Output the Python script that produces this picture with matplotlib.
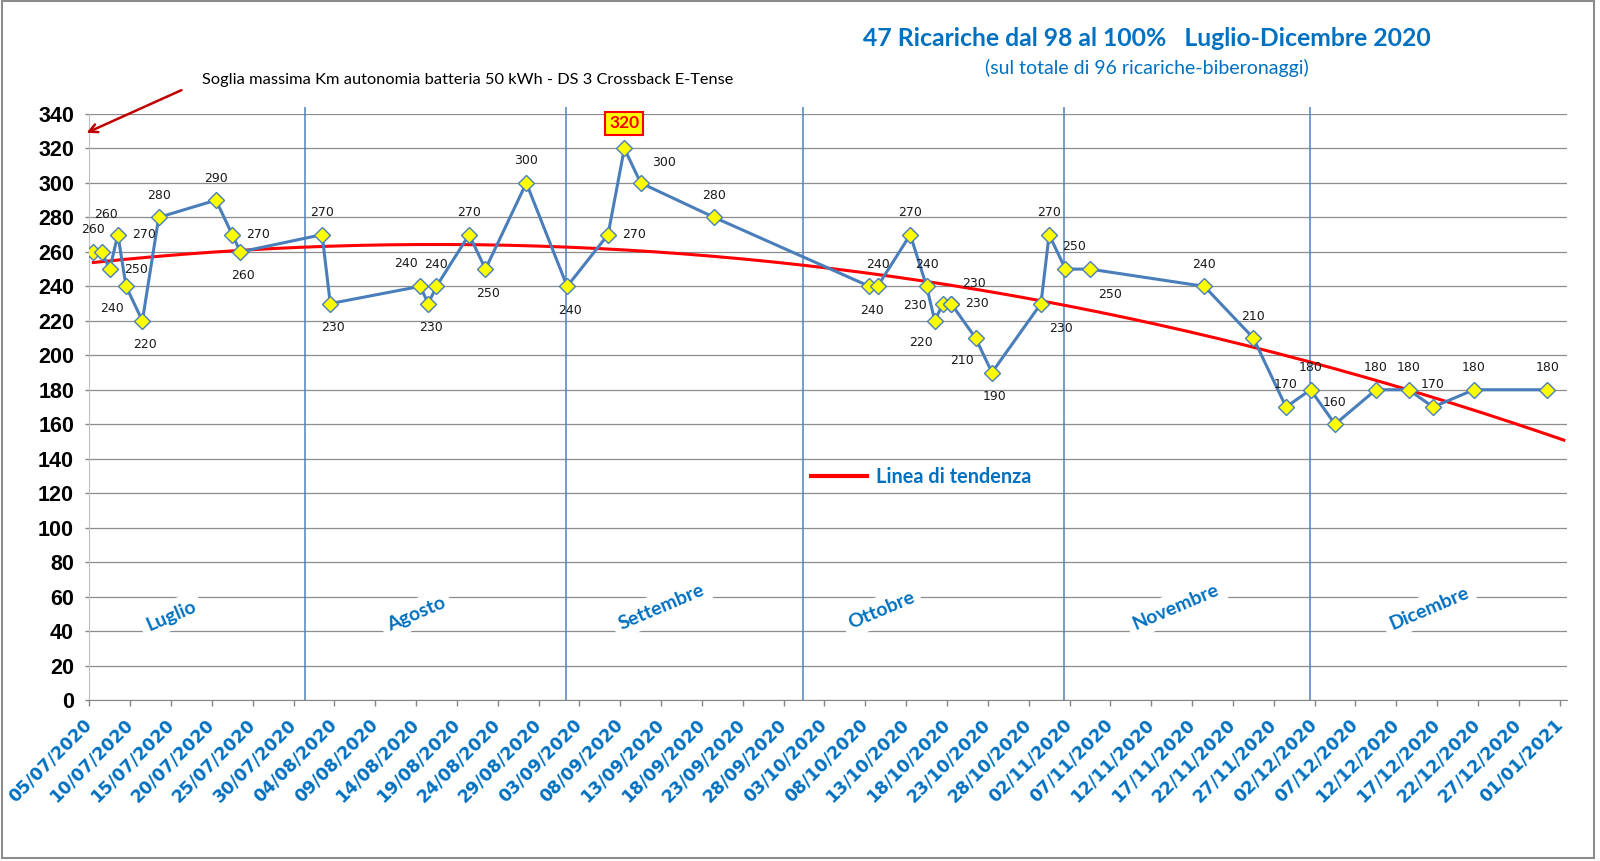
import numpy as np
import pandas as pd
import matplotlib
matplotlib.use('Agg')
from matplotlib import pyplot as plt
import matplotlib.dates as mdates
from matplotlib.patches import Rectangle
from matplotlib.transforms import ScaledTranslation

# ricariche dal 98 al 100% (data, km autonomia stimata)
date = ['05/07/2020', '06/07/2020', '07/07/2020', '08/07/2020', '09/07/2020', '11/07/2020',
        '13/07/2020', '20/07/2020', '22/07/2020', '23/07/2020', '02/08/2020', '03/08/2020',
        '14/08/2020', '15/08/2020', '16/08/2020', '20/08/2020', '22/08/2020', '27/08/2020',
        '01/09/2020', '06/09/2020', '08/09/2020', '10/09/2020', '19/09/2020', '08/10/2020',
        '09/10/2020', '13/10/2020', '15/10/2020', '16/10/2020', '17/10/2020', '18/10/2020',
        '18/10/2020', '21/10/2020', '23/10/2020', '29/10/2020', '30/10/2020', '01/11/2020',
        '04/11/2020', '18/11/2020', '24/11/2020', '28/11/2020', '01/12/2020', '04/12/2020',
        '09/12/2020', '13/12/2020', '16/12/2020', '21/12/2020', '30/12/2020']
km = [260, 260, 250, 270, 240, 220, 280, 290, 270, 260, 270, 230,
      240, 230, 240, 270, 250, 300, 240, 270, 320, 300, 280, 240,
      240, 270, 240, 220, 230, 230, 230, 210, 190, 230, 270, 250,
      250, 240, 210, 170, 180, 160, 180, 180, 170, 180, 180]

# separatori e nomi dei mesi
mesi_linee = ['31/07/2020', '01/09/2020', '30/09/2020', '01/11/2020', '01/12/2020']
mesi_nomi = ['Luglio', 'Agosto', 'Settembre', 'Ottobre', 'Novembre', 'Dicembre']
mesi_date = ['15/07/2020', '14/08/2020', '13/09/2020', '10/10/2020', '15/11/2020', '16/12/2020']
mesi_y = [49, 50, 54, 52, 54, 53]

# posizione etichette dati
label_pos = ['a', 'a2', 'r', 'r', 'bl', 'b', 'a', 'a', 'r', 'b',
             'a', 'b', 'al', 'b', 'a', 'a', 'b', 'a', 'b', 'r',
             'box', 'ur', 'a', 'b', 'a', 'a', 'a', 'bl', 'l', 'r',
             'ur', 'bl', 'b', 'br', 'a', 'ar', 'br', 'a', 'a', 'a',
             'a', 'a', 'a', 'a', 'a', 'a', 'a']
offsets = {'a': (0, -22), 'a2': (4, -37), 'al': (-14, -23), 'ar': (9, -23),
           'b': (3, 24), 'bl': (-14, 22), 'br': (20, 25), 'r': (26, 0),
           'l': (-28, 2), 'ur': (23, -20), 'box': (0, -25)}

BLU = '#0070C0'
x = pd.to_datetime(date, dayfirst=True) + pd.Timedelta(hours=12)
start = pd.Timestamp('2020-07-05')
end = pd.Timestamp('2021-01-01')

fig = plt.figure(figsize=(16, 8.61), dpi=100)
ax = fig.add_axes([0.0558, 0.187, 0.9236, 0.6806])

# linea di tendenza (polinomiale 2 ordine)
xn = mdates.date2num(x)
coef = np.polyfit(xn - xn[0], km, 2)
xt = np.linspace(xn[0], mdates.date2num(end) + 0.5, 200)
trend, = ax.plot(mdates.num2date(xt), np.polyval(coef, xt - xn[0]), color='red', lw=2.2, zorder=3)

ax.plot(x, km, color='#4A7EBB', lw=2.2, marker='D', ms=8.2, mfc='#FFFF00', mec='#4A7EBB',
        mew=1.0, zorder=4)

for d in mesi_linee:
    ax.vlines(pd.to_datetime(d, dayfirst=True) + pd.Timedelta(hours=9), 0, 344,
              color='#4F81BD', lw=1.1, clip_on=False, zorder=2)

for d, v, p in zip(x, km, label_pos):
    dx, dy = offsets[p]
    if p == 'box':
        ax.annotate(str(v), (d, v), xytext=(dx * 0.72, -dy * 0.72), textcoords='offset points',
                    ha='center', va='center', color='red', fontsize=12.5, fontweight='bold',
                    family='Lato', zorder=6,
                    bbox=dict(boxstyle='square,pad=0.22', fc='#FFFF00', ec='red', lw=1.5))
    else:
        ax.annotate(str(v), (d, v), xytext=(dx * 0.72, -dy * 0.72), textcoords='offset points',
                    ha='center', va='center', color='#1a1a1a', fontsize=9,
                    family='DejaVu Sans', zorder=5)

for nome, d, yv in zip(mesi_nomi, mesi_date, mesi_y):
    ax.text(pd.to_datetime(d, dayfirst=True), yv, nome, rotation=23, ha='center', va='center',
            color=BLU, fontsize=14, fontweight='bold', family='Lato', zorder=3,
            bbox=dict(boxstyle='square,pad=0.3', fc='white', ec='none'))

ax.set_ylim(0, 340)
ax.set_yticks(range(0, 341, 20))
ax.set_xlim(start, start + pd.Timedelta(days=180.9))
ticks = pd.date_range(start, end, freq='5D')
ax.set_xticks(ticks)
ax.set_xticklabels([t.strftime('%d/%m/%Y') for t in ticks], rotation=45, ha='right',
                   va='center', rotation_mode='anchor', color=BLU, fontsize=12.5,
                   fontweight='bold', family='DejaVu Sans')
shift = ScaledTranslation(4 / 100, 0, fig.dpi_scale_trans)
for t in ax.get_xticklabels():
    t.set_transform(t.get_transform() + shift)
for t in ax.get_yticklabels():
    t.set_fontfamily('Liberation Sans')
    t.set_fontweight('bold')
    t.set_fontsize(15.5)

ax.tick_params(axis='x', direction='out', length=4, width=1, color='#868686', pad=11.5)
ax.tick_params(axis='y', direction='out', length=3, width=1, color='#868686', pad=8)
ax.yaxis.grid(True, color='#8c8c8c', lw=0.9)
ax.set_axisbelow(True)
for s in ['top', 'right']:
    ax.spines[s].set_visible(False)
ax.spines['left'].set_color('#BFBFBF')
ax.spines['bottom'].set_color('#868686')

leg = ax.legend([trend], ['Linea di tendenza'], loc='center left',
                bbox_to_anchor=(811 / 1600, 1 - 477 / 861), bbox_transform=fig.transFigure,
                frameon=False, borderpad=0, borderaxespad=0, handlelength=2.8,
                handletextpad=0.45, prop=dict(family='Lato', weight='bold', size=14.3))
for t in leg.get_texts():
    t.set_color(BLU)
leg.get_lines()[0].set_linewidth(3)

fig.text(1147 / 1600, 1 - 39 / 861, '47 Ricariche dal 98 al 100%   Luglio-Dicembre 2020',
         ha='center', va='center', color=BLU, fontsize=17.8, fontweight='bold', family='Lato')
fig.text(1147 / 1600, 1 - 68 / 861, '(sul totale di 96 ricariche-biberonaggi)',
         ha='center', va='center', color=BLU, fontsize=14, family='Lato')
fig.text(202 / 1600, 1 - 80 / 861,
         'Soglia massima Km autonomia batteria 50 kWh - DS 3 Crossback E-Tense',
         ha='left', va='center', color='black', fontsize=11.8, family='Lato')
ax.annotate('', xy=(84 / 1600, 1 - 134 / 861), xytext=(184 / 1600, 1 - 89 / 861),
            xycoords='figure fraction', textcoords='figure fraction',
            arrowprops=dict(arrowstyle='->,head_length=0.6,head_width=0.3', color='#C00000',
                            lw=1.8))

fig.patches.append(Rectangle((0.0015, 0.0035), 0.995, 0.995, transform=fig.transFigure,
                             fill=False, ec='#8c8c8c', lw=1.5))

fig.savefig('out.png', dpi=100)
